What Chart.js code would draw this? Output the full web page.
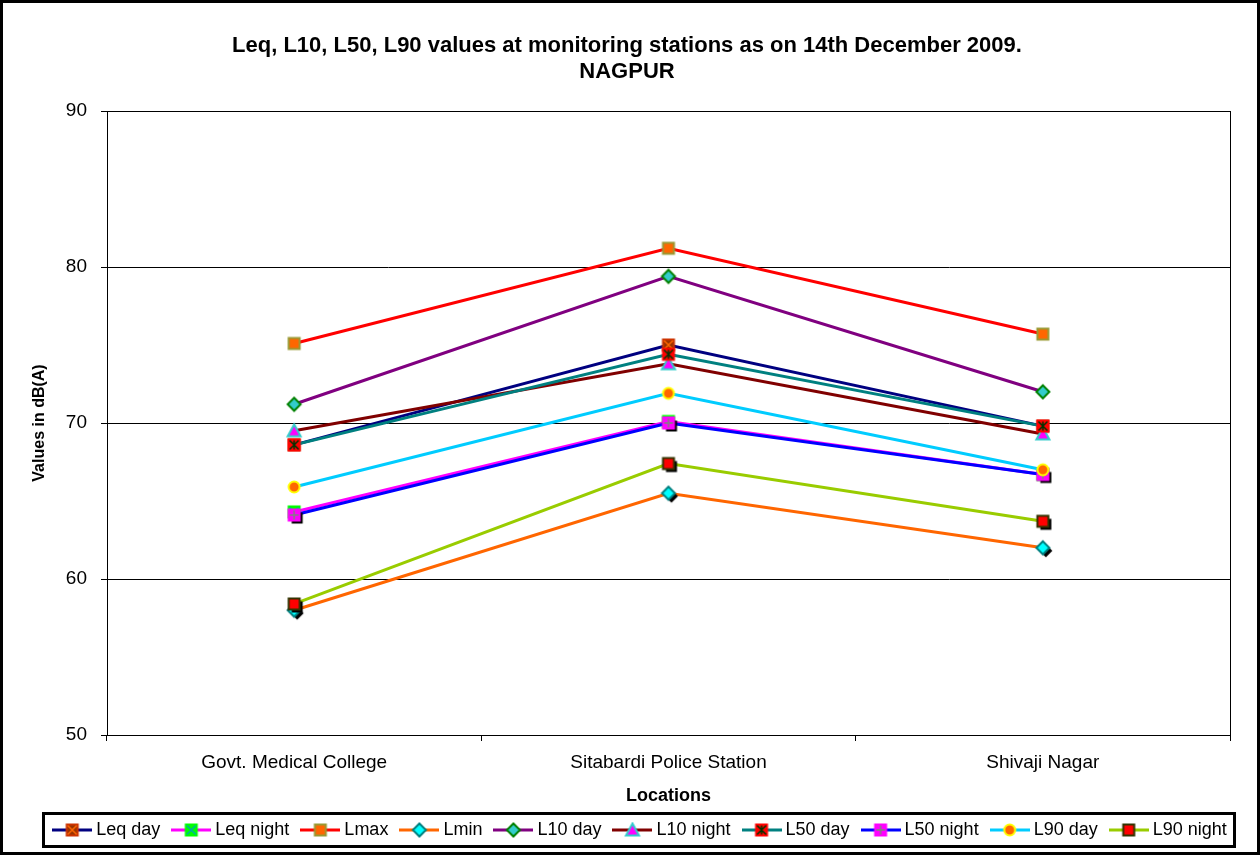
<!DOCTYPE html>
<html>
<head>
<meta charset="utf-8">
<script src="https://cdn.jsdelivr.net/npm/chart.js@4.4.0/dist/chart.umd.min.js"></script>
<style>
  html, body { margin: 0; padding: 0; background: #fff; }
  canvas { display: block; }
</style>
</head>
<body>
<canvas id="noiseChart" width="1260" height="855"></canvas>
<script>
// values, dB(A)
const locations = ['Govt. Medical College', 'Sitabardi Police Station', 'Shivaji Nagar'];
const leqDay   = [68.6, 75.0, 69.8];
const leqNight = [64.3, 70.1, 66.7];
const lMax     = [75.1, 81.2, 75.7];
const lMin     = [58.0, 65.5, 62.0];
const l10Day   = [71.2, 79.4, 72.0];
const l10Night = [69.5, 73.8, 69.3];
const l50Day   = [68.6, 74.4, 69.8];
const l50Night = [64.1, 70.0, 66.7];
const l90Day   = [65.9, 71.9, 67.0];
const l90Night = [58.4, 67.4, 63.7];
const yMin = 50, yMax = 90, yStep = 10;

const FONT = 'Arial, "Liberation Sans", sans-serif';
Chart.defaults.font.family = FONT;
Chart.defaults.color = '#000';

const series = [
  { label: 'Leq day',   data: leqDay,   line: '#000080', m: { shape: 'square', fill: '#993300', edge: '#CC3300', mark: 'x', markColor: '#FF6600' } },
  { label: 'Leq night', data: leqNight, line: '#FF00FF', m: { shape: 'square', fill: '#00FF00', edge: '#00FF00', mark: 'x', markColor: '#00AAAA' } },
  { label: 'Lmax',      data: lMax,     line: '#FF0000', m: { shape: 'square', fill: '#FF6600', edge: '#999933' } },
  { label: 'Lmin',      data: lMin,     line: '#FF6600', m: { shape: 'diamond', fill: '#00FFFF', edge: '#008080' }, shadow: true },
  { label: 'L10 day',   data: l10Day,   line: '#800080', m: { shape: 'diamond', fill: '#33CCCC', edge: '#008000' } },
  { label: 'L10 night', data: l10Night, line: '#800000', m: { shape: 'triangle', fill: '#FF00FF', edge: '#33CCCC' } },
  { label: 'L50 day',   data: l50Day,   line: '#008080', m: { shape: 'square', fill: '#FF0000', edge: '#FF0000', mark: 'star', markColor: '#003300' } },
  { label: 'L50 night', data: l50Night, line: '#0000FF', m: { shape: 'square', fill: '#FF00FF', edge: '#FF00FF', mark: 'plus', markColor: '#808080' }, shadow: true },
  { label: 'L90 day',   data: l90Day,   line: '#00CCFF', m: { shape: 'circle', fill: '#FF6600', edge: '#FFFF00' } },
  { label: 'L90 night', data: l90Night, line: '#99CC00', m: { shape: 'square', fill: '#FF0000', edge: '#333300' }, shadow: true }
];

function drawShape(ctx, cx, cy, m, solid) {
  const h = 5.5;
  ctx.beginPath();
  if (m.shape === 'square') {
    ctx.rect(cx - h, cy - h, 2 * h, 2 * h);
  } else if (m.shape === 'diamond') {
    ctx.moveTo(cx, cy - h - 1); ctx.lineTo(cx + h + 1, cy); ctx.lineTo(cx, cy + h + 1); ctx.lineTo(cx - h - 1, cy);
    ctx.closePath();
  } else if (m.shape === 'triangle') {
    ctx.moveTo(cx, cy - h - 1); ctx.lineTo(cx + h + 1, cy + h); ctx.lineTo(cx - h - 1, cy + h);
    ctx.closePath();
  } else {
    ctx.arc(cx, cy, h, 0, Math.PI * 2);
  }
  if (solid) {
    ctx.fillStyle = solid;
    ctx.fill();
    return;
  }
  ctx.fillStyle = m.fill;
  ctx.fill();
  ctx.lineWidth = 2;
  ctx.strokeStyle = m.edge;
  ctx.stroke();
  if (m.mark) {
    ctx.beginPath();
    ctx.strokeStyle = m.markColor;
    ctx.lineWidth = 1.5;
    if (m.mark === 'x' || m.mark === 'star') {
      ctx.moveTo(cx - h + 1, cy - h + 1); ctx.lineTo(cx + h - 1, cy + h - 1);
      ctx.moveTo(cx + h - 1, cy - h + 1); ctx.lineTo(cx - h + 1, cy + h - 1);
    }
    if (m.mark === 'star' || m.mark === 'plus') {
      ctx.moveTo(cx, cy - h + 1); ctx.lineTo(cx, cy + h - 1);
    }
    if (m.mark === 'plus') {
      ctx.moveTo(cx - h + 1, cy); ctx.lineTo(cx + h - 1, cy);
    }
    ctx.stroke();
  }
}

function makeMarker(s) {
  const c = document.createElement('canvas');
  const size = s.shadow ? 26 : 18;
  c.width = c.height = size;
  const ctx = c.getContext('2d');
  const mid = size / 2;
  if (s.shadow) drawShape(ctx, mid + 3, mid + 3, s.m, '#000');
  drawShape(ctx, mid, mid, s.m);
  return c;
}

// legend sample: short line with the marker in the middle
function makeLegendIcon(s) {
  const c = document.createElement('canvas');
  c.width = 40; c.height = 16;
  const ctx = c.getContext('2d');
  ctx.strokeStyle = s.line;
  ctx.lineWidth = 3;
  ctx.beginPath(); ctx.moveTo(0, 8); ctx.lineTo(40, 8); ctx.stroke();
  drawShape(ctx, 20, 8, s.m);
  return c;
}

const legendIcons = series.map(makeLegendIcon);
const LEGEND_SHIFT = 15;

const framePlugin = {
  id: 'frame',
  afterUpdate(chart) {
    // the legend row sits a little right of centre in the original
    const lg = chart.legend;
    lg.left += LEGEND_SHIFT;
    lg.right += LEGEND_SHIFT;
    lg.legendHitBoxes.forEach(b => { b.left += LEGEND_SHIFT; });
  },
  beforeDatasetsDraw(chart) {
    const ctx = chart.ctx, a = chart.chartArea;
    ctx.save();
    ctx.strokeStyle = '#000';
    ctx.lineWidth = 1;
    ctx.strokeRect(Math.round(a.left) + 0.5, Math.round(a.top) + 0.5, Math.round(a.right - a.left), Math.round(a.bottom - a.top));
    ctx.restore();
  },
  afterDraw(chart) {
    const ctx = chart.ctx;
    const hits = chart.legend.legendHitBoxes;
    let l = Infinity, r = -Infinity;
    hits.forEach(b => { l = Math.min(l, b.left); r = Math.max(r, b.left + b.width); });
    ctx.save();
    ctx.strokeStyle = '#000';
    ctx.lineWidth = 3;
    ctx.strokeRect(Math.round(l) - 13.5, 813.5, Math.round(r - l) + 21, 33);
    ctx.strokeRect(1.5, 1.5, chart.width - 3, chart.height - 3);
    ctx.restore();
  }
};

new Chart(document.getElementById('noiseChart'), {
  type: 'line',
  data: {
    labels: locations,
    datasets: series.map((s, i) => ({
      label: s.label,
      data: s.data,
      borderColor: s.line,
      backgroundColor: s.line,
      borderWidth: 3,
      tension: 0,
      fill: false,
      pointStyle: makeMarker(s),
      pointRadius: 6,
      pointHoverRadius: 6,
      order: series.length - i
    }))
  },
  options: {
    responsive: false,
    animation: false,
    layout: { padding: { left: 24, right: 30, top: 6, bottom: 6 } },
    plugins: {
      title: {
        display: true,
        text: ['Leq, L10, L50, L90 values at monitoring stations as on 14th December 2009.', 'NAGPUR'],
        color: '#000',
        font: { size: 22, weight: 'bold', lineHeight: 26 / 22 },
        padding: { top: 27, bottom: 26 }
      },
      legend: {
        position: 'bottom',
        labels: {
          usePointStyle: true,
          pointStyleWidth: 30,
          padding: 16,
          color: '#000',
          font: { size: 18 },
          generateLabels(chart) {
            const items = Chart.defaults.plugins.legend.labels.generateLabels(chart);
            items.forEach(it => { it.pointStyle = legendIcons[it.datasetIndex]; });
            return items.sort((a, b) => a.datasetIndex - b.datasetIndex);
          }
        }
      },
      tooltip: { enabled: false }
    },
    scales: {
      x: {
        offset: true,
        grid: { offset: true, drawOnChartArea: false, drawTicks: true, tickLength: 6, color: '#000' },
        border: { color: '#000' },
        ticks: { color: '#000', font: { size: 19 }, padding: 10, maxRotation: 0 },
        title: { display: true, text: 'Locations', color: '#000', font: { size: 18, weight: 'bold' }, padding: { top: 2, bottom: -2 } },
        afterFit(scale) { scale.height = 70; }
      },
      y: {
        min: yMin,
        max: yMax,
        ticks: { stepSize: yStep, color: '#000', font: { size: 19 }, padding: 14 },
        grid: { color: '#000', tickLength: 6 },
        border: { color: '#000' },
        title: { display: true, text: 'Values in dB(A)', color: '#000', font: { size: 16, weight: 'bold' }, padding: { top: 6, bottom: 0 } },
        afterFit(scale) { scale.width = 83; }
      }
    }
  },
  plugins: [framePlugin]
});
</script>
</body>
</html>
